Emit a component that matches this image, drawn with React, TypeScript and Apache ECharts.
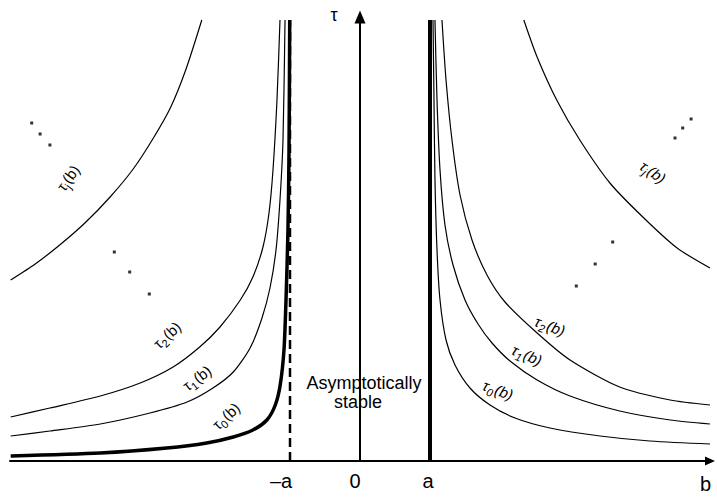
import React, { useEffect, useRef } from 'react';
import * as echarts from 'echarts';

// axis ticks
const tickValues = [-1, 0, 1];
const tickLabels = ['–a', '0', 'a'];

// left branch curves (b < -a): [b, tau]
const tau0Left = [[-4.99, 0.10], [-3.71, 0.16], [-2.76, 0.26], [-2.19, 0.36], [-1.81, 0.48], [-1.53, 0.62], [-1.33, 0.82], [-1.21, 1.12], [-1.14, 1.52], [-1.086, 2.22], [-1.057, 3.22], [-1.029, 4.62], [-1.014, 6.22], [-1.004, 8.82]];
const tau1Left = [[-4.99, 0.50], [-4.43, 0.60], [-3.71, 0.74], [-3.0, 0.96], [-2.47, 1.18], [-2.10, 1.46], [-1.81, 1.78], [-1.57, 2.26], [-1.40, 2.86], [-1.286, 3.46], [-1.20, 4.22], [-1.143, 5.22], [-1.10, 6.42], [-1.071, 8.82]];
const tau2Left = [[-4.99, 0.88], [-4.43, 1.06], [-3.71, 1.30], [-3.14, 1.56], [-2.67, 1.88], [-2.29, 2.28], [-2.0, 2.68], [-1.71, 3.22], [-1.53, 3.68], [-1.386, 4.28], [-1.30, 4.96], [-1.243, 5.82], [-1.186, 7.22], [-1.143, 8.82]];
const tauJLeft = [[-4.99, 3.62], [-4.64, 3.94], [-4.29, 4.32], [-3.93, 4.76], [-3.57, 5.28], [-3.24, 5.84], [-2.96, 6.44], [-2.71, 7.06], [-2.49, 7.82], [-2.26, 8.82]];

// right branch curves (b > a)
const tau0Right = [[1.043, 8.82], [1.057, 7.22], [1.071, 5.62], [1.10, 4.22], [1.143, 3.22], [1.229, 2.42], [1.357, 1.92], [1.571, 1.46], [1.857, 1.12], [2.214, 0.86], [2.714, 0.66], [3.43, 0.50], [4.14, 0.40], [5.0, 0.34]];
const tau1Right = [[1.071, 8.82], [1.10, 7.22], [1.143, 5.82], [1.214, 4.72], [1.329, 3.92], [1.50, 3.22], [1.686, 2.74], [1.886, 2.36], [2.143, 2.0], [2.53, 1.62], [3.0, 1.30], [3.71, 1.00], [4.43, 0.82], [5.0, 0.74]];
const tau2Right = [[1.171, 8.82], [1.229, 7.62], [1.314, 6.42], [1.429, 5.32], [1.60, 4.42], [1.814, 3.72], [2.071, 3.18], [2.53, 2.56], [3.0, 2.02], [3.71, 1.48], [4.43, 1.22], [5.0, 1.12]];
const tauJRight = [[2.34, 8.82], [2.53, 8.08], [2.81, 7.22], [3.14, 6.42], [3.57, 5.56], [4.04, 4.88], [4.53, 4.26], [5.0, 3.86]];

// boundaries
const minusABoundary = [[-1, 0], [-1, 8.82]];
const plusABoundary = [[1, 0], [1, 8.82]];

// ellipsis dots
const dotsLeftUpper = [[-4.69, 6.76], [-4.57, 6.54], [-4.43, 6.32]];
const dotsLeftLower = [[-3.51, 4.18], [-3.29, 3.78], [-3.01, 3.34]];
const dotsRightUpper = [[4.50, 6.46], [4.61, 6.66], [4.73, 6.84]];
const dotsRightLower = [[3.61, 4.38], [3.36, 3.94], [3.09, 3.50]];

const FONT = '"Liberation Sans", Arial, Helvetica, sans-serif';

function curve(data: number[][], width: number) {
  return {
    type: 'line',
    data,
    showSymbol: false,
    smooth: 0.25,
    lineStyle: { color: '#000', width },
    silent: true,
  };
}

function dots(data: number[][]) {
  return {
    type: 'scatter',
    data,
    symbol: 'rect',
    symbolSize: 3,
    itemStyle: { color: '#000' },
    silent: true,
  };
}

function tauLabel(sub: string, x: number, y: number, rotation: number, italic: boolean) {
  const fs = italic ? 'italic' : 'normal';
  return {
    type: 'text',
    x,
    y,
    rotation,
    silent: true,
    style: {
      text: `{t|τ}{s|${sub}}{t|(b)}`,
      align: 'center',
      verticalAlign: 'middle',
      fill: '#000',
      rich: {
        t: { fontSize: 15, fontFamily: FONT, fontStyle: fs, fill: '#000' },
        s: { fontSize: 11, fontFamily: FONT, fontStyle: fs, fill: '#000', padding: [10, 1, 0, 0] },
      },
    },
  };
}

export default function App() {
  const ref = useRef<HTMLDivElement>(null);
  useEffect(() => {
    if (!ref.current) return;
    const chart = echarts.init(ref.current, null, { renderer: 'svg' });
    chart.setOption({
      animation: false,
      backgroundColor: '#fff',
      grid: { left: 10, right: 7, top: 17, bottom: 37 },
      xAxis: {
        type: 'value',
        min: -5,
        max: 5,
        axisLine: {
          onZero: true,
          symbol: ['none', 'triangle'],
          symbolSize: [9, 10],
          lineStyle: { color: '#000', width: 2 },
        },
        axisTick: { show: false },
        splitLine: { show: false },
        axisLabel: {
          customValues: tickValues,
          margin: 10,
          formatter: (v: number) => {
            const i = tickValues.indexOf(v);
            if (i < 0) return '';
            return `{l${i}|${tickLabels[i]}}`;
          },
          rich: {
            l0: { fontSize: 20, fontFamily: FONT, color: '#000', padding: [0, 18, 0, 0] },
            l1: { fontSize: 20, fontFamily: FONT, color: '#000', padding: [0, 10, 0, 0] },
            l2: { fontSize: 20, fontFamily: FONT, color: '#000', padding: [0, 4, 0, 0] },
          },
        },
      },
      yAxis: {
        type: 'value',
        min: 0,
        max: 8.88,
        axisLine: {
          show: true,
          onZero: true,
          symbol: ['none', 'triangle'],
          symbolSize: [11, 13],
          lineStyle: { color: '#000', width: 2 },
        },
        axisTick: { show: false },
        splitLine: { show: false },
        axisLabel: { show: false },
      },
      series: [
        curve(tau0Left, 3.5),
        curve(tau1Left, 1.2),
        curve(tau2Left, 1.2),
        curve(tauJLeft, 1.2),
        curve(tau0Right, 1.2),
        curve(tau1Right, 1.2),
        curve(tau2Right, 1.2),
        curve(tauJRight, 1.2),
        {
          type: 'line',
          data: minusABoundary,
          showSymbol: false,
          lineStyle: { color: '#000', width: 2.5, type: [9, 5] },
          silent: true,
        },
        {
          type: 'line',
          data: plusABoundary,
          showSymbol: false,
          lineStyle: { color: '#000', width: 4 },
          silent: true,
        },
        dots(dotsLeftUpper),
        dots(dotsLeftLower),
        dots(dotsRightUpper),
        dots(dotsRightLower),
      ],
      graphic: [
        { type: 'text', x: 334, y: 15, silent: true, style: { text: 'τ', font: `18px ${FONT}`, fill: '#000', align: 'center', verticalAlign: 'middle' } },
        { type: 'text', x: 700, y: 484, silent: true, style: { text: 'b', font: `20px ${FONT}`, fill: '#000', align: 'left', verticalAlign: 'middle' } },
        { type: 'text', x: 364, y: 383, silent: true, style: { text: 'Asymptotically', font: `18px ${FONT}`, fill: '#000', align: 'center', verticalAlign: 'middle' } },
        { type: 'text', x: 358, y: 401.5, silent: true, style: { text: 'stable', font: `18px ${FONT}`, fill: '#000', align: 'center', verticalAlign: 'middle' } },
        tauLabel('j', 68, 178, 0.95, false),
        tauLabel('2', 167, 335, 0.75, false),
        tauLabel('1', 197, 378, 0.65, false),
        tauLabel('0', 226, 416, 0.75, false),
        tauLabel('j', 653, 172, -0.6, true),
        tauLabel('2', 550, 326, -0.35, true),
        tauLabel('1', 527, 355, -0.4, true),
        tauLabel('0', 498, 390, -0.35, true),
      ],
    });
    return () => chart.dispose();
  }, []);
  return <div ref={ref} style={{ position: 'fixed', left: 0, top: 0, width: 717, height: 498 }} />;
}
